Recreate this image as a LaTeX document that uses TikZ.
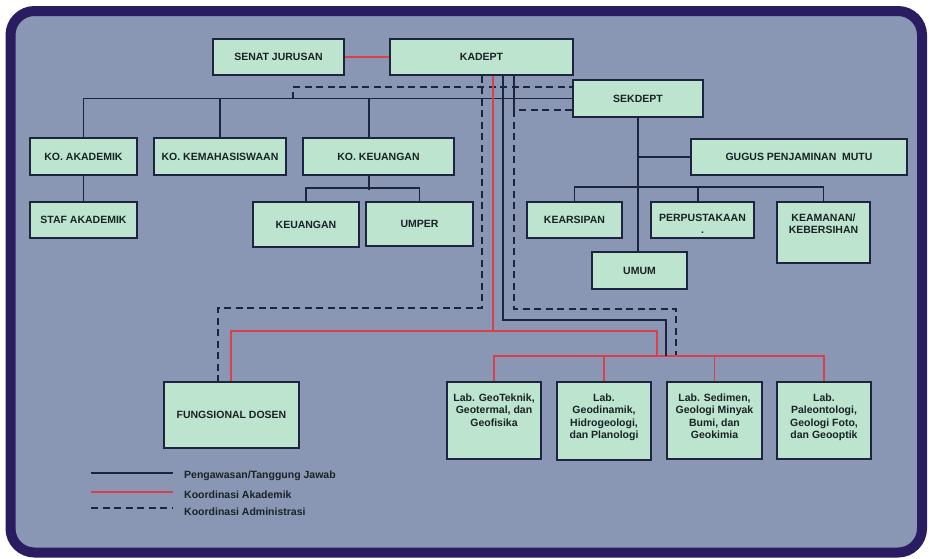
\documentclass[tikz,border=0pt]{standalone}
\usepackage{fontspec}
\setmainfont{Liberation Sans}
\pgfdeclarelayer{bg}
\pgfdeclarelayer{lines}
\pgfsetlayers{bg,lines,main}
\definecolor{framec}{RGB}{42,28,96}
\definecolor{slate}{RGB}{137,151,180}
\definecolor{boxfill}{RGB}{188,228,206}
\definecolor{linec}{RGB}{28,36,62}
\definecolor{redc}{RGB}{218,64,74}
\definecolor{textc}{RGB}{25,35,38}
\tikzset{
  orgbox/.style={draw=linec, line width=1.5pt, fill=boxfill, inner sep=0pt, align=center,
     text=textc, font=\bfseries\fontsize{10.5}{12.5}\selectfont},
  blackline/.style={draw=linec, line width=1.6pt},
  redline/.style={draw=redc, line width=1.6pt},
  dashline/.style={draw=linec, line width=1.8pt, dash pattern=on 7pt off 4.5pt},
  legtext/.style={anchor=west, text=textc, inner sep=0pt, font=\bfseries\fontsize{10.5}{12.5}\selectfont}
}
\newcommand{\topbox}[3]{\parbox[c][#1][t]{#2}{\centering\rule{0pt}{19pt}#3}}
\begin{document}
\begin{tikzpicture}[x=1pt,y=-1pt]
\useasboundingbox (0,0) rectangle (929,558);
\begin{pgfonlayer}{bg}
\fill[white] (0,0) rectangle (929,558);
\draw[line width=10pt, draw=framec, fill=slate, rounded corners=24pt] (10.5,11) rectangle (922,552.5);
\end{pgfonlayer}

% boxes
\node[orgbox, minimum width=131pt, minimum height=36pt] (senat) at (278.5,57) {SENAT JURUSAN};
\node[orgbox, minimum width=183pt, minimum height=36pt] (kadept) at (481.5,57) {KADEPT};
\node[orgbox, minimum width=130pt, minimum height=37pt] (sekdept) at (638,98.5) {SEKDEPT};
\node[orgbox, minimum width=107pt, minimum height=37pt] (koak) at (83.5,156.5) {KO. AKADEMIK};
\node[orgbox, minimum width=132pt, minimum height=37pt] (kokema) at (220,156.5) {KO. KEMAHASISWAAN};
\node[orgbox, minimum width=151pt, minimum height=37pt] (kokeu) at (378.5,156.5) {KO. KEUANGAN};
\node[orgbox, minimum width=107pt, minimum height=36pt] (staf) at (83.5,220) {STAF AKADEMIK};
\node[orgbox, minimum width=106pt, minimum height=45pt] (keu) at (306,224.5) {KEUANGAN};
\node[orgbox, minimum width=107pt, minimum height=44pt] (umper) at (419.5,224) {UMPER};
\node[orgbox, minimum width=216pt, minimum height=36pt] (gugus) at (799,157) {GUGUS PENJAMINAN \ MUTU};
\node[orgbox, minimum width=95pt, minimum height=36pt] (kears) at (574.5,220) {KEARSIPAN};
\node[orgbox] (perpus) at (702.5,220) {\topbox{36pt}{103pt}{PERPUSTAKAAN\\.}};
\node[orgbox] (keam) at (823.5,232.5) {\topbox{61pt}{93pt}{KEAMANAN/\\KEBERSIHAN}};
\node[orgbox, minimum width=95pt, minimum height=37pt] (umum) at (639.5,270.5) {UMUM};
\node[orgbox, minimum width=135pt, minimum height=66pt] (fung) at (231.5,415) {FUNGSIONAL DOSEN};
\node[orgbox] (lab1) at (494,420.5) {\topbox{77pt}{94pt}{Lab. GeoTeknik,\\Geotermal, dan\\Geofisika}};
\node[orgbox] (lab2) at (604,421) {\topbox{78pt}{94pt}{Lab.\\Geodinamik,\\Hidrogeologi,\\dan Planologi}};
\node[orgbox] (lab3) at (714.5,420.5) {\topbox{77pt}{95pt}{Lab. Sedimen,\\Geologi Minyak\\Bumi, dan\\Geokimia}};
\node[orgbox] (lab4) at (824,420.5) {\topbox{77pt}{94pt}{Lab.\\Paleontologi,\\Geologi Foto,\\dan Geooptik}};

% legend
\coordinate (lg1a) at (91,473); \coordinate (lg1b) at (173,473);
\coordinate (lg2a) at (91,492); \coordinate (lg2b) at (173,492);
\coordinate (lg3a) at (91,508); \coordinate (lg3b) at (173,508);
\node[legtext] (lt1) at (184,476) {Pengawasan/Tanggung Jawab};
\node[legtext] (lt2) at (184,495) {Koordinasi Akademik};
\node[legtext] (lt3) at (184,511.5) {Koordinasi Administrasi};
\coordinate (dtick) at (293,98.5);

\begin{pgfonlayer}{lines}
% legend lines
\draw[blackline] (lg1a) -- (lg1b);
\draw[redline] (lg2a) -- (lg2b);
\draw[dashline] (lg3a) -- (lg3b);
% senat - kadept
\draw[redline] (senat.east) -- (kadept.west);
% top bus
\draw[blackline] (koak.north) |- (sekdept.west);
\draw[blackline] (kokema.north) -- (kokema.north |- sekdept.west);
\draw[blackline] ([xshift=-9.5pt]kokeu.north) -- ++(0,-39.5);
\draw[blackline] (koak.south) -- (staf.north);
\draw[blackline] ([xshift=-9.5pt]kokeu.south) -- ++(0,14);
\draw[blackline] (keu.north) -- ++(0,-13) -| (umper.north);
% dashed admin
\draw[dashline] (dtick) |- ([yshift=11.5pt]sekdept.west);
\draw[dashline] ([yshift=-11.5pt]sekdept.west) -| ([xshift=32.5pt]kadept.south);
\draw[dashline] ([xshift=32.5pt]kadept.south) -- ++(0,233) -| ([xshift=72pt,yshift=25pt]lab2.north);
\draw[dashline] ([xshift=0.5pt]kadept.south) -- ++(0,232) -| ([xshift=-13.5pt]fung.north);
% red academic
\draw[redline] ([xshift=11.5pt]kadept.south) -- ++(0,255) coordinate (rj) -| ([xshift=-0.5pt]fung.north);
\draw[redline] (rj) -| ([xshift=53pt,yshift=25pt]lab2.north);
\draw[redline] (lab1.north) -- ++(0,-25) -| (lab4.north);
\draw[redline] (lab2.north) -- ++(0,-25);
\draw[redline] (lab3.north) -- ++(0,-25);
% black supervision to labs
\draw[blackline] ([xshift=21.5pt]kadept.south) -- ++(0,244) -| ([xshift=62pt,yshift=25pt]lab2.north);
% sekdept
\draw[blackline] (sekdept.south) -- (sekdept.south |- umum.north);
\draw[blackline] (gugus.west) -- (gugus.west -| sekdept.south);
\draw[blackline] (kears.north) -- ++(0,-14) -| (keam.north);
\draw[blackline] ([xshift=-4.5pt]perpus.north) -- ++(0,-14);
\end{pgfonlayer}
\end{tikzpicture}
\end{document}
